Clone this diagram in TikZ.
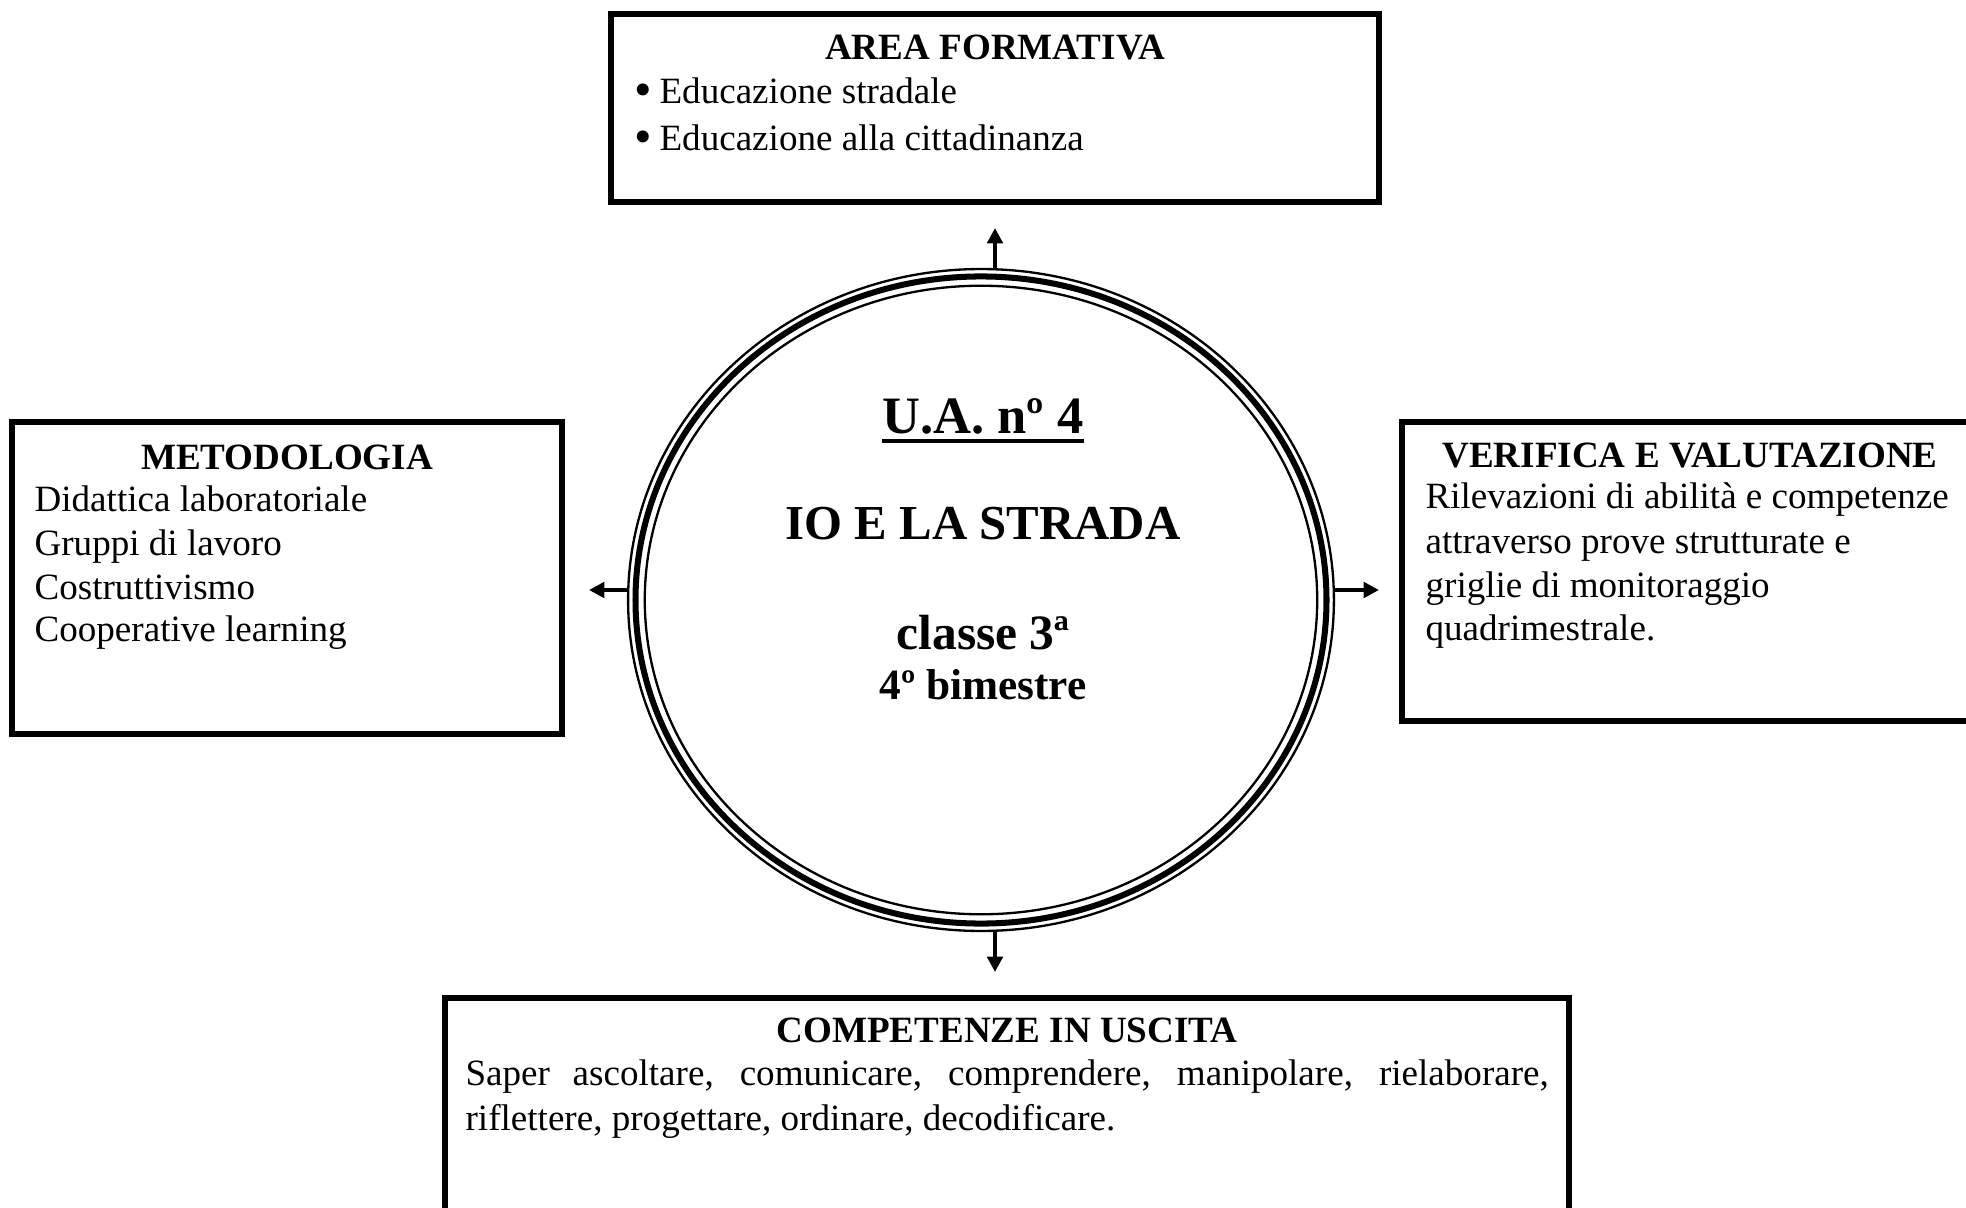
\documentclass[tikz,border=0pt]{standalone}
\usepackage{fontspec}
\setmainfont{Liberation Serif}
\usetikzlibrary{shapes.geometric,fit,arrows.meta}
\newcommand{\ulbox}[1]{\setbox0\hbox{#1}\rlap{\rule[-3.1pt]{\wd0}{1pt}}\box0}
\newcommand{\bigbul}{\raisebox{-1.2pt}{\scalebox{1.35}{•}}\hspace{2.4pt}}
\begin{document}
\begin{tikzpicture}[x=0.3236pt,y=-0.3236pt,
  box/.style={draw, line width=1.75pt, inner sep=0pt},
  head/.style={font=\fontsize{12}{14}\selectfont\bfseries, inner sep=0pt, anchor=base},
  body/.style={font=\fontsize{12}{14}\selectfont, inner sep=0pt, anchor=base west},
  arr/.style={line width=1.3pt, -{Triangle[length=5pt,width=5pt]}},
  ring/.style={draw, line width=0.75pt},
  ringthick/.style={draw, line width=1.95pt},
  title/.style={font=\bfseries, inner sep=0pt, anchor=base}
]
\useasboundingbox (0,0) rectangle (1966,1208);
\clip (0,0) rectangle (1966,1208);
\fill[white] (0,0) rectangle (1966,1208);

% boxes
\node[box, fit={(611,14) (1379,202)}] (boxT) {};
\node[box, fit={(12,422) (562,734)}] (boxL) {};
\node[box, fit={(1402,422) (1985,721)}] (boxB0) {};
\node[box, fit={(445,998) (1569,1250)}] (boxB) {};

% central ellipse
\node[ellipse, minimum width=228.4pt, minimum height=214.2pt, inner sep=0pt] (ell) at (981,600) {};
\draw[ring] (ell.center) ellipse [x radius=114.2pt, y radius=107.1pt];
\draw[ringthick] (ell.center) ellipse [x radius=111.8pt, y radius=104.7pt];
\draw[ring] (ell.center) ellipse [x radius=108.8pt, y radius=101.7pt];

% arrows
\coordinate (tipT) at (995,228);
\coordinate (tipB) at (995,972);
\coordinate (tipL) at (589,590);
\coordinate (tipR) at (1379,590);
\draw[arr] (ell.north -| tipT) -- (tipT);
\draw[arr] (ell.south -| tipB) -- (tipB);
\draw[arr] (ell.west |- tipL) -- (tipL);
\draw[arr] (ell.east |- tipR) -- (tipR);

% centre text
\node[title, font=\fontsize{17}{20}\selectfont\bfseries] (ua) at (983,433) {\ulbox{U.A. nº 4}};
\node[title, font=\fontsize{15.8}{19}\selectfont\bfseries] (io) at (983,539) {IO E LA STRADA};
\node[title, font=\fontsize{16}{19}\selectfont\bfseries] (cl) at (983,649) {classe 3ª};
\node[title, font=\fontsize{14}{17}\selectfont\bfseries] (bim) at (983,699) {4º bimestre};

% top box text
\node[head] (hT) at (995,60) {AREA FORMATIVA};
\node[body] (t1) at (634,103) {\bigbul Educazione stradale};
\node[body] (t2) at (634,150) {\bigbul Educazione alla cittadinanza};

% left box text
\node[head] (hL) at (287,469) {METODOLOGIA};
\node[body] (l1) at (34,511) {Didattica laboratoriale};
\node[body] (l2) at (34,555) {Gruppi di lavoro};
\node[body] (l3) at (34,599) {Costruttivismo};
\node[body] (l4) at (34,641) {Cooperative learning};

% right box text
\node[head] (hR) at (1690,467) {VERIFICA E VALUTAZIONE};
\node[body] (r1) at (1425,508) {Rilevazioni di abilità e competenze};
\node[body] (r2) at (1425,553) {attraverso prove strutturate e};
\node[body] (r3) at (1425,597) {griglie di monitoraggio};
\node[body] (r4) at (1425,640) {quadrimestrale.};

% bottom box text
\node[head] (hB) at (1007,1042) {COMPETENZE IN USCITA};
\node[body] (c1) at (465,1085) {\makebox[350.5pt][s]{Saper ascoltare, comunicare, comprendere, manipolare, rielaborare,}};
\node[body] (c2) at (465,1130) {riflettere, progettare, ordinare, decodificare.};
\end{tikzpicture}
\end{document}
